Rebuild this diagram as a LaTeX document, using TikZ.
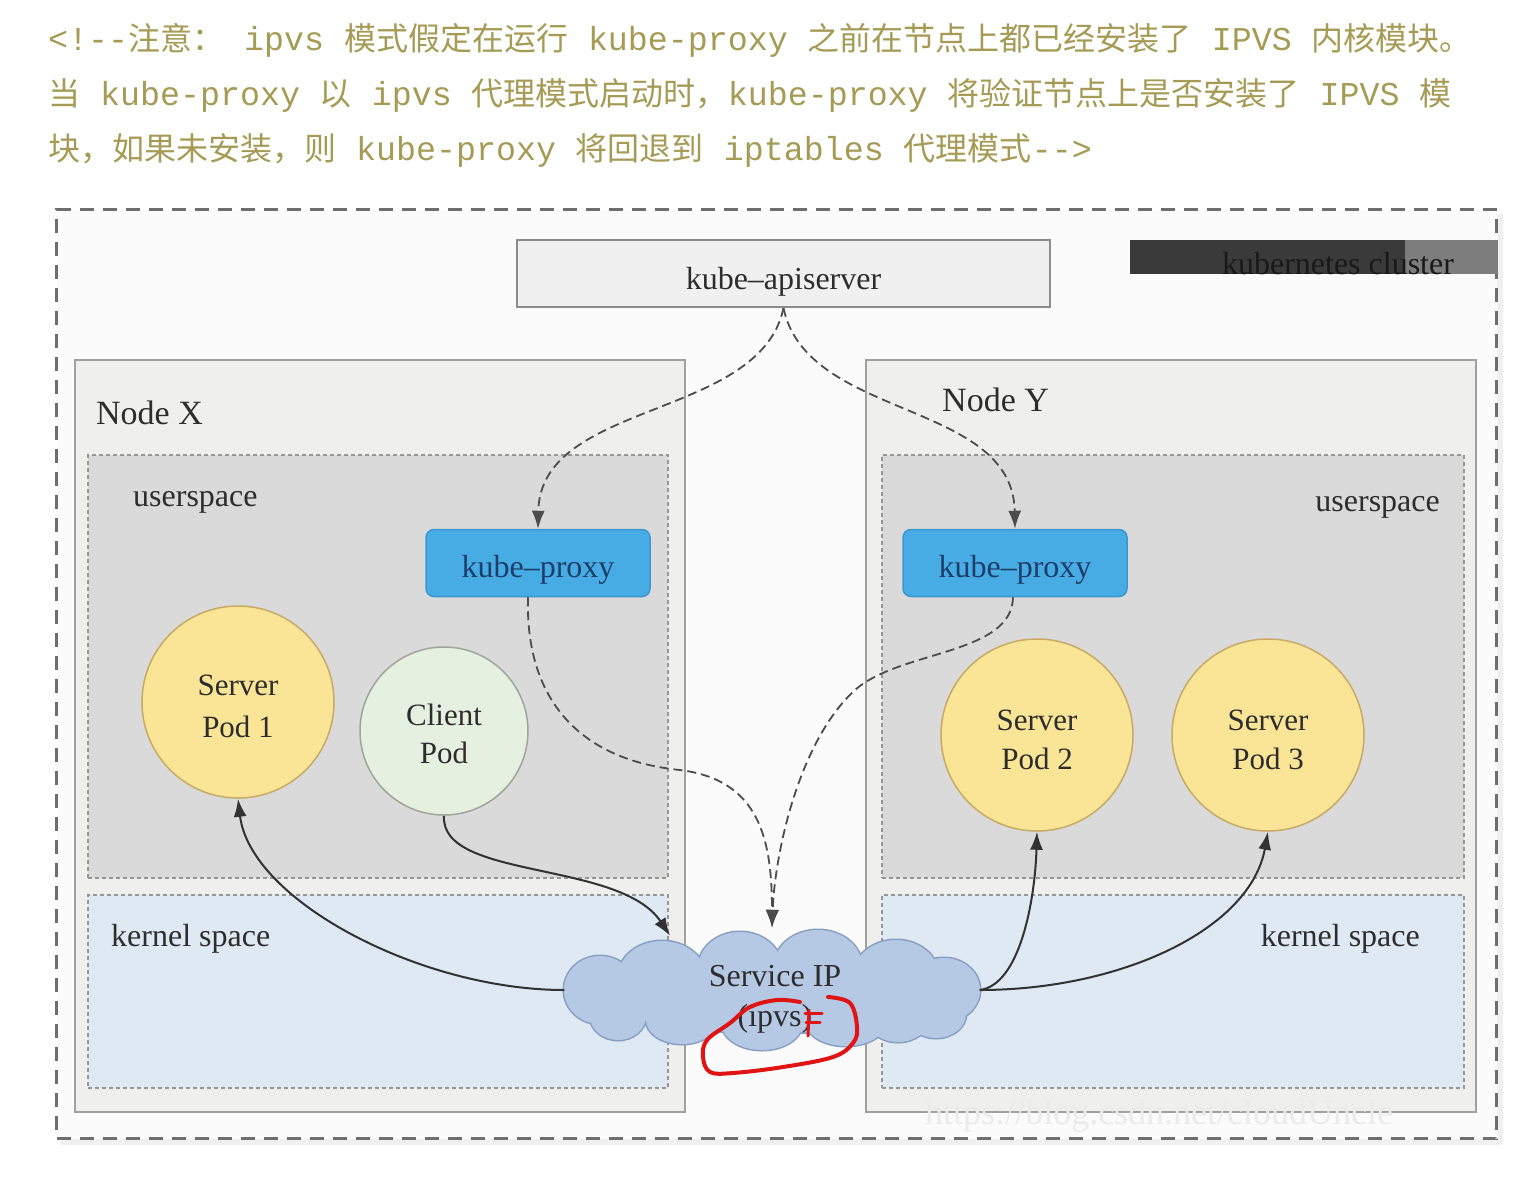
\documentclass[tikz,border=0pt]{standalone}
\usepackage{fontspec}
\setmainfont{Liberation Serif}
\newfontfamily\cjkfont{Noto Sans CJK SC}
\newfontfamily\monofont{Liberation Mono}
\usetikzlibrary{shapes.geometric,arrows.meta}
\newcommand\zhtxt[1]{{\cjkfont\fontsize{32}{40}\selectfont #1}}
\definecolor{notecol}{RGB}{165,155,85}
\definecolor{txt}{RGB}{45,45,45}
\definecolor{outerdash}{RGB}{110,110,110}
\definecolor{boxline}{RGB}{160,160,160}
\definecolor{boxfill}{RGB}{239,239,237}
\definecolor{apifill}{RGB}{240,240,240}
\definecolor{apiline}{RGB}{140,140,140}
\definecolor{dashline}{RGB}{150,150,150}
\definecolor{usfill}{RGB}{218,218,218}
\definecolor{ksfill}{RGB}{222,233,243}
\definecolor{proxyblue}{RGB}{72,172,228}
\definecolor{proxyedge}{RGB}{60,150,205}
\definecolor{proxytext}{RGB}{28,62,105}
\definecolor{podyellow}{RGB}{250,228,150}
\definecolor{podedge}{RGB}{200,170,100}
\definecolor{clientfill}{RGB}{230,240,224}
\definecolor{clientedge}{RGB}{160,165,155}
\definecolor{cloudfill}{RGB}{181,200,228}
\definecolor{cloudedge}{RGB}{135,158,195}
\definecolor{conncol}{RGB}{50,50,50}
\definecolor{bardark}{RGB}{58,58,58}
\definecolor{bargray}{RGB}{125,125,125}
\definecolor{scribble}{RGB}{225,20,20}
\tikzset{
  note/.style={font=\monofont\fontsize{33.3}{40}\selectfont, text=notecol, inner sep=0, anchor=base west},
  lbl/.style={font=\fontsize{32}{40}\selectfont, text=txt, inner sep=0},
  podlbl/.style={lbl, font=\fontsize{31}{40}\selectfont, anchor=base},
  nodebox/.style={draw=boxline, line width=2pt, fill=boxfill, anchor=north west, inner sep=0, outer sep=0},
  uspace/.style={draw=dashline, dash pattern=on 4pt off 3pt, line width=1.5pt, fill=usfill, anchor=north west, inner sep=0, outer sep=0},
  kspace/.style={uspace, fill=ksfill},
  proxy/.style={rounded corners=8pt, fill=proxyblue, draw=proxyedge, line width=1.5pt, minimum width=224, minimum height=67, inner sep=0, text height=28pt, text depth=0pt, font=\fontsize{32}{40}\selectfont, text=proxytext},
  pod/.style={circle, fill=podyellow, draw=podedge, line width=1.5pt, minimum size=192, inner sep=0},
  conn/.style={line width=2pt, draw=conncol, -{Latex[length=18pt,width=13pt]}},
  dconn/.style={conn, draw=black!70, dash pattern=on 9pt off 5pt, line width=1.8pt},
}
\begin{document}
\begin{tikzpicture}[x=1pt,y=-1pt]
\useasboundingbox (0,0) rectangle (1540,1184);
\fill[white] (0,0) rectangle (1540,1184);
% note text
\node[note] (l1) at (48,50) {<!-{}-\zhtxt{注意：} ipvs \zhtxt{模式假定在运行} kube-proxy \zhtxt{之前在节点上都已经安装了} IPVS \zhtxt{内核模块。}};
\node[note] (l2) at (48,105) {\zhtxt{当} kube-proxy \zhtxt{以} ipvs \zhtxt{代理模式启动时，}kube-proxy \zhtxt{将验证节点上是否安装了} IPVS \zhtxt{模}};
\node[note] (l3) at (48,160) {\zhtxt{块，如果未安装，则} kube-proxy \zhtxt{将回退到} iptables \zhtxt{代理模式}-{}->};
% cluster
\fill[black!6] (61,214) rectangle (1503,1145);
\node (cluster) [draw=outerdash, dash pattern=on 14pt off 9pt, line width=3pt, fill=black!1.5, anchor=north west, minimum width=1440, minimum height=929, inner sep=0] at (55,208) {};
\node (api) [draw=apiline, line width=2pt, fill=apifill, minimum width=533, minimum height=67, inner sep=0, text height=31pt, text depth=0pt, font=\fontsize{32}{40}\selectfont, text=txt] at (783.5,273.5) {kube--apiserver};
\fill[bardark] (1130,240) rectangle (1405,274);
\fill[bargray] (1405,240) rectangle (1498,274);
\node (k8s) [lbl, text=black!90, anchor=base] at (1338,274) {kubernetes cluster};
% nodes
\node (nodex) [nodebox, minimum width=610, minimum height=752] at (75,360) {};
\node (nodey) [nodebox, minimum width=610, minimum height=752] at (866,360) {};
\node (nxl) [lbl, font=\fontsize{34}{40}\selectfont, anchor=base west] at (96,424) {Node X};
\node (nyl) [lbl, font=\fontsize{34}{40}\selectfont, anchor=base west] at (942,411) {Node Y};
\node (usx) [uspace, minimum width=580, minimum height=423] at (88,455) {};
\node (ksx) [kspace, minimum width=580, minimum height=193] at (88,895) {};
\node (usy) [uspace, minimum width=582, minimum height=423] at (882,455) {};
\node (ksy) [kspace, minimum width=582, minimum height=193] at (882,895) {};
\node (usxl) [lbl, anchor=base west] at (133,506) {userspace};
\node (usyl) [lbl, anchor=base east] at (1440,511) {userspace};
\node (ksxl) [lbl, anchor=base west] at (111,946) {kernel space};
\node (ksyl) [lbl, anchor=base east] at (1420,946) {kernel space};
% watermark
\node (wm) [font=\fontsize{36}{40}\selectfont, text=black!8, anchor=base west, inner sep=0] at (925,1124) {https://blog.csdn.net/cloudUncle};
% components
\node (kpx) [proxy] at (538,563) {kube--proxy};
\node (kpy) [proxy] at (1015,563) {kube--proxy};
\node (sp1) [pod] at (238,702) {};
\node (cp) [pod, minimum size=168, fill=clientfill, draw=clientedge] at (444,731) {};
\node (sp2) [pod] at (1037,735) {};
\node (sp3) [pod] at (1268,735) {};
\node (sp1a) [podlbl] at (238,695) {Server};
\node (sp1b) [podlbl] at (238,737) {Pod 1};
\node (cpa) [podlbl] at (444,725) {Client};
\node (cpb) [podlbl] at (444,763) {Pod};
\node (sp2a) [podlbl] at (1037,730) {Server};
\node (sp2b) [podlbl] at (1037,769) {Pod 2};
\node (sp3a) [podlbl] at (1268,730) {Server};
\node (sp3b) [podlbl] at (1268,769) {Pod 3};
% cloud: outline then fill of overlapping puffs
\foreach \cx/\cy/\ra/\rb in {600/990/36/34, 618/1016/28/24, 662/977/44/36, 740/968/42/36, 818/966/44/36, 896/974/42/34, 944/990/36/32, 936/1014/30/24, 898/1020/30/22, 682/1020/36/24, 762/1024/40/26, 846/1022/40/24, 772/995/170/38}
  \draw[cloudedge, line width=3pt] (\cx,\cy) ellipse ({\ra} and {\rb});
\foreach \cx/\cy/\ra/\rb in {600/990/36/34, 618/1016/28/24, 662/977/44/36, 740/968/42/36, 818/966/44/36, 896/974/42/34, 944/990/36/32, 936/1014/30/24, 898/1020/30/22, 682/1020/36/24, 762/1024/40/26, 846/1022/40/24, 772/995/170/38}
  \fill[cloudfill] (\cx,\cy) ellipse ({\ra} and {\rb});
\node (cloud) [ellipse, minimum width=415, minimum height=124, inner sep=0] at (772,990) {};
\node (svc1) [lbl, anchor=base] at (775,986) {Service IP};
\node (svc2) [lbl, anchor=base] at (775,1026) {(ipvs)};
% connectors
\draw[dconn] (api.south) .. controls (760,420) and (540,400) .. (kpx.north);
\draw[dconn] (api.south) .. controls (807,420) and (1013,400) .. (kpy.north);
\draw[dconn] ([xshift=-10pt]kpx.south) .. controls (525,700) and (580,760) .. (680,770) .. controls (760,780) and (772,840) .. (cloud.north);
\draw[dconn] ([xshift=-2pt]kpy.south) .. controls (1012,655) and (900,650) .. (855,690) .. controls (800,740) and (775,850) .. (cloud.north);
\draw[conn] (cp.south) .. controls (440,880) and (620,860) .. (cloud.152);
\draw[conn] (cloud.west) .. controls (420,990) and (250,900) .. (sp1.south);
\draw[conn] (cloud.east) .. controls (1020,985) and (1035,900) .. (sp2.south);
\draw[conn] (cloud.east) .. controls (1120,990) and (1250,930) .. (sp3.south);
% red scribble
\draw[scribble, line width=4pt, line cap=round, line join=round] plot[smooth, tension=0.6] coordinates {(828,997) (850,1003) (857,1027) (853,1043) (833,1057) (783,1067) (733,1073) (710,1072) (703,1057) (707,1040) (730,1023) (750,1007) (777,1000) (800,1002)};
\draw[scribble, line width=3pt, line cap=round] (805,1013) -- (822,1013);
\draw[scribble, line width=3pt, line cap=round] (806,1022) -- (820,1022);
\draw[scribble, line width=3pt, line cap=round] (809,1010) -- (808,1036);
\end{tikzpicture}
\end{document}
